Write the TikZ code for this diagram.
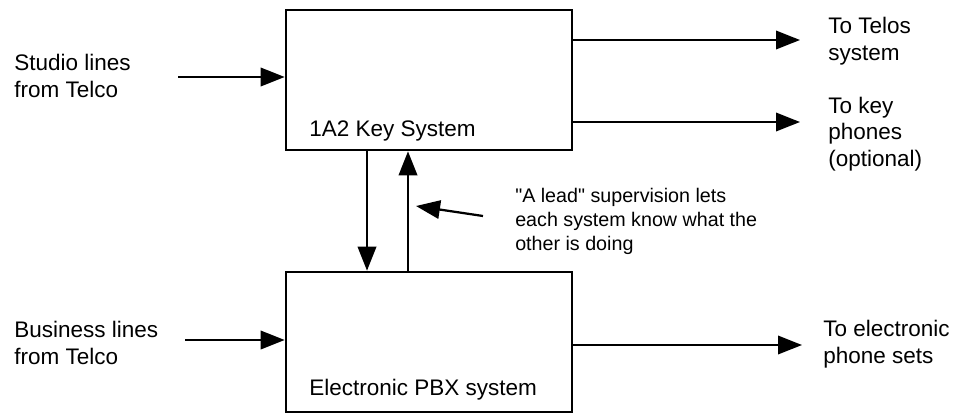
\documentclass[tikz,border=0pt]{standalone}
\usepackage{fontspec}
\setmainfont{Liberation Sans}
\usetikzlibrary{
    positioning,                      % right=of, below=of, etc.
    arrows.meta,                      % Triangle tips
    calc                              % coordinate arithmetic
}
\tikzset{
    sysbox/.style={
        rectangle, draw, line width=1.8pt,
        minimum width=7.15cm, minimum height=3.5cm
    },
    boxname/.style={
        anchor=west, inner sep=0pt
    },
    caption/.style={
        align=left, anchor=west, inner sep=0pt,
        font=\fontsize{16}{19}\selectfont
    },
    note/.style={
        caption, font=\fontsize{14}{17}\selectfont
    },
    feed/.style={
        -{Triangle[length=6mm,width=4.6mm]}, line width=1.6pt
    }
}

\begin{document}
\begin{tikzpicture}[x=0.025cm, y=-0.025cm, font=\fontsize{16}{19}\selectfont]
    \useasboundingbox (0,0) rectangle (959,415);
    % the two systems
    \node[sysbox] (key) at (429,80) {};
    \node[sysbox] (pbx) at (429,342) {};
    \node[boxname] (keyname) at (309,131) {1A2 Key System};
    \node[boxname] (pbxname) at (309,390) {Electronic PBX system};
    % incoming lines
    \node[caption] (studio) at (14,76) {Studio lines\\from Telco};
    \node[caption] (business) at (14,343) {Business lines\\from Telco};
    \coordinate (studioin) at (178,77);
    \coordinate (businessin) at (185,340);
    \draw[feed] (studioin) -- (studioin -| key.west);
    \draw[feed] (businessin) -- (businessin -| pbx.west);
    % outgoing lines
    \node[caption] (telos) at (828,41) {To Telos\\system};
    \node[caption] (keyphones) at (828,134) {To key\\phones\\(optional)};
    \node[caption] (phonesets) at (823,344) {To electronic\\phone sets};
    \coordinate (telosout) at (800,40);
    \coordinate (keyout) at (800,122);
    \coordinate (pbxout) at (802,345);
    \draw[feed] (telosout -| key.east) -- (telosout);
    \draw[feed] (keyout -| key.east) -- (keyout);
    \draw[feed] (pbxout -| pbx.east) -- (pbxout);
    % A lead supervision
    \coordinate (down) at (367,0);
    \coordinate (up) at (408,0);
    \draw[feed] (down |- key.south) -- (down |- pbx.north);
    \draw[feed] (up |- pbx.north) -- (up |- key.south);
    \node[note] (lead) at (515,221) {\textquotedbl A lead\textquotedbl{} supervision lets\\each system know what the\\other is doing};
    \coordinate (leadtail) at (483,216);
    \coordinate (leadtip) at (416,206);
    \draw[feed] (leadtail) -- (leadtip);
\end{tikzpicture}
\end{document}
